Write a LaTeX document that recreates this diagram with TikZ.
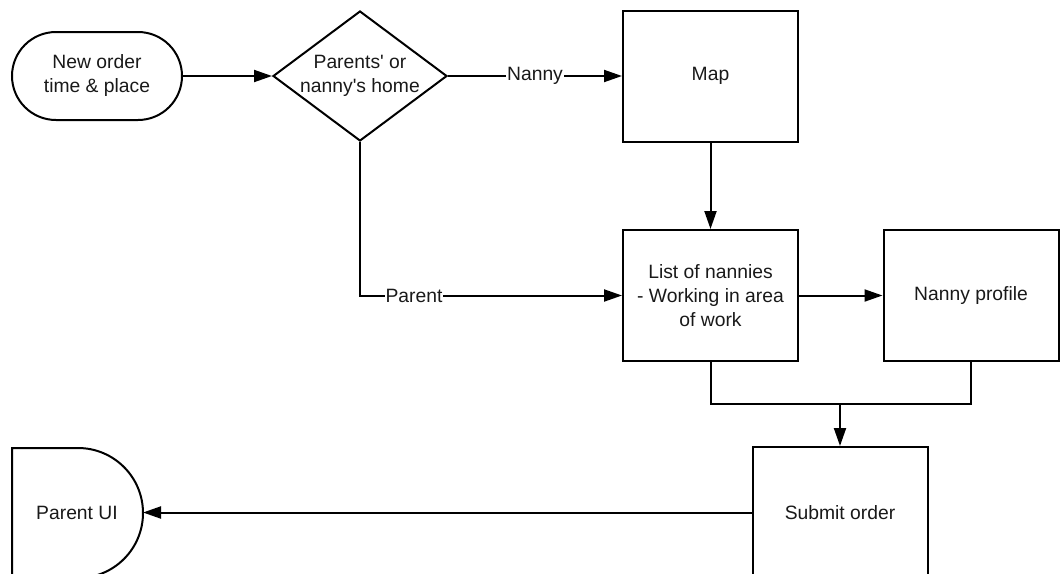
\documentclass[tikz,border=0pt]{standalone}
\usepackage{fontspec}
\setmainfont{Liberation Sans}
\usetikzlibrary{shapes.geometric,arrows.meta}
\begin{document}
\begin{tikzpicture}[x=1pt,y=-1pt,
  every node/.style={font=\fontsize{19.3}{24}\selectfont, text=black!90, align=center},
  shapeline/.style={draw=black, line width=2pt},
  procbox/.style={shapeline, rectangle, minimum width=175pt, minimum height=131pt, inner sep=0pt},
  termbox/.style={shapeline, rectangle, rounded corners=44pt, minimum width=170pt, minimum height=88pt, inner sep=0pt},
  decision/.style={shapeline, diamond, minimum width=174pt, minimum height=130pt, inner sep=0pt},
  flow/.style={line width=2pt, draw=black},
  arr/.style={flow, -{Triangle[length=18pt,width=12pt]}},
  lbl/.style={fill=white, inner sep=1pt}]

\useasboundingbox (0,0) rectangle (1060,573);
\clip (0,0) rectangle (1060,573);

% nodes
\node[termbox] (start) at (97,76) {New order\\time \& place};
\node[decision, label={center:Parents\textquotesingle{} or\\nanny\textquotesingle s home}] (dec) at (360,76) {};
\node[procbox] (map) at (710.5,76) {Map};
\node[procbox] (list) at (710.5,295.5) {List of nannies\\- Working in area\\of work};
\node[procbox] (prof) at (971,295.5) {Nanny profile};
\node[procbox] (submit) at (840,512.5) {Submit order};

% Parent UI: flat top, half-round right side
\draw[shapeline] (12,600) -- (12,448) -- (78,448) arc[start angle=90, end angle=-90, radius=65pt];
\node (ui) at (77,513) {Parent UI};
\coordinate (uiedge) at (143,512.5);

% connectors
\coordinate (join) at (840,404);
\draw[arr] (start) -- (dec);
\draw[arr] (dec.east) -- node[lbl] {Nanny} (map.west);
\draw[arr] (map) -- (list);
\draw[arr] (dec.south) |- node[lbl, pos=0.603] {Parent} (list.west);
\draw[arr] (list) -- (prof);
\draw[flow] (list.south) |- (join) -| (prof.south);
\draw[arr] (join) -- (submit.north);
\draw[arr] (submit.west) -- (uiedge);
\end{tikzpicture}
\end{document}
